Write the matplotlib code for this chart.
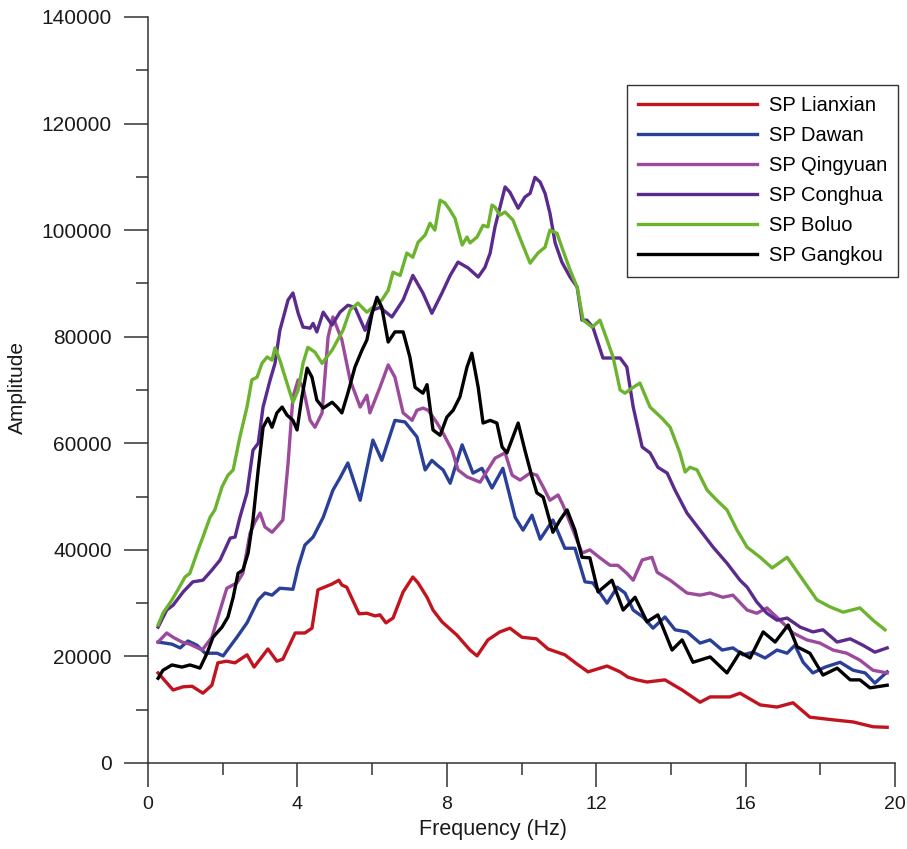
import matplotlib
matplotlib.use("Agg")
import matplotlib.pyplot as plt
from matplotlib.ticker import MultipleLocator

# frequency (Hz) / amplitude readings for each station spectrum
lianxian_f = [0.27, 0.67, 0.94, 1.18, 1.47, 1.71, 1.87, 2.1, 2.33, 2.65, 2.84, 3.21, 3.45, 3.61, 3.94,
              4.2, 4.39, 4.55, 4.93, 5.11, 5.19, 5.32, 5.65, 5.86, 6.08, 6.21, 6.37, 6.56, 6.83, 7.09,
              7.23, 7.47, 7.63, 7.87, 8.27, 8.62, 8.81, 9.1, 9.42, 9.69, 10.01, 10.4, 10.71, 11.16,
              11.48, 11.78, 12.29, 12.64, 12.85, 13.09, 13.36, 13.84, 14.3, 14.78, 15.05, 15.58,
              15.85, 16.39, 16.84, 17.27, 17.72, 18.34, 18.88, 19.41, 19.79]
lianxian_a = [16900, 13700, 14300, 14400, 13100, 14600, 18800, 19100, 18800, 20300, 18000, 21400,
              19100, 19500, 24400, 24400, 25300, 32500, 33600, 34300, 33400, 33000, 28000, 28100,
              27600, 27800, 26300, 27200, 32100, 34900, 33800, 31100, 28700, 26500, 24000, 21200,
              20100, 23100, 24600, 25300, 23600, 23300, 21400, 20300, 18600, 17100, 18200, 17100,
              16100, 15600, 15200, 15600, 13700, 11400, 12400, 12400, 13100, 10900, 10500, 11300,
              8600, 8100, 7700, 6800, 6700]

dawan_f = [0.27, 0.64, 0.86, 1.07, 1.31, 1.53, 1.85, 2.01, 2.38, 2.65, 2.95, 3.13, 3.32, 3.53, 3.88,
           4.02, 4.2, 4.42, 4.69, 4.95, 5.14, 5.35, 5.68, 6.02, 6.26, 6.61, 6.88, 7.2, 7.42, 7.6,
           7.74, 7.9, 8.09, 8.41, 8.7, 8.94, 9.21, 9.5, 9.83, 10.04, 10.28, 10.5, 10.84, 11.16,
           11.43, 11.7, 11.91, 12.29, 12.56, 12.77, 12.99, 13.25, 13.52, 13.84, 14.11, 14.43, 14.78,
           15.05, 15.37, 15.66, 15.93, 16.2, 16.52, 16.84, 17.11, 17.32, 17.54, 17.8, 18.13, 18.53,
           18.88, 19.2, 19.46, 19.79]
dawan_a = [22700, 22300, 21600, 22900, 22100, 20600, 20600, 20100, 23600, 26300, 30600, 31900, 31500,
           32800, 32600, 36800, 40900, 42400, 46100, 51200, 53500, 56300, 49300, 60600, 56800, 64300,
           64000, 61200, 55000, 56800, 55900, 55000, 52500, 59700, 54400, 55300, 51600, 55300, 46100,
           43700, 46500, 42000, 45600, 40300, 40300, 34000, 33800, 30000, 33000, 31900, 28700, 27400,
           25300, 27400, 25000, 24600, 22500, 23100, 21200, 21600, 20300, 20800, 19700, 21200, 20600,
           22100, 18900, 16900, 18000, 18900, 17400, 16900, 15000, 17100]

qingyuan_f = [0.27, 0.5, 0.67, 0.91, 1.12, 1.45, 1.71, 1.93, 2.11, 2.38, 2.54, 2.73, 2.86, 3.0, 3.13,
              3.32, 3.45, 3.61, 3.75, 3.88, 4.02, 4.15, 4.34, 4.47, 4.66, 4.82, 4.95, 5.19, 5.41, 5.68,
              5.86, 5.94, 6.21, 6.43, 6.61, 6.83, 7.07, 7.2, 7.36, 7.5, 7.74, 7.9, 8.14, 8.3, 8.54,
              8.89, 9.29, 9.56, 9.75, 9.96, 10.23, 10.41, 10.58, 10.76, 10.98, 11.11, 11.38, 11.62,
              11.83, 12.1, 12.37, 12.58, 12.82, 12.99, 13.23, 13.49, 13.63, 13.98, 14.43, 14.78,
              15.05, 15.39, 15.66, 16.04, 16.3, 16.57, 16.92, 17.27, 17.64, 17.99, 18.34, 18.71,
              19.06, 19.41, 19.79]
qingyuan_a = [22700, 24400, 23600, 22700, 22300, 21200, 23600, 28700, 32800, 33800, 35600, 43100,
              45200, 46900, 44300, 43300, 44300, 45600, 56300, 68700, 71900, 70500, 64300, 63000,
              65700, 79900, 83700, 79400, 71900, 66800, 69000, 65700, 70500, 74700, 72400, 65700,
              64300, 66200, 66600, 66200, 63800, 61900, 58700, 55000, 53700, 52700, 57200, 58200,
              54000, 53100, 54400, 54000, 51800, 49300, 50300, 48400, 43700, 39400, 40000, 38500,
              37100, 37100, 35600, 34300, 38100, 38600, 35800, 34300, 31900, 31500, 31900, 31100,
              31500, 28700, 28100, 29100, 26800, 24400, 23100, 22500, 21200, 20600, 19300, 17400,
              16900]

conghua_f = [0.27, 0.5, 0.67, 0.94, 1.2, 1.47, 1.71, 1.93, 2.2, 2.33, 2.46, 2.65, 2.81, 2.95, 3.08,
             3.27, 3.4, 3.53, 3.75, 3.88, 4.02, 4.15, 4.34, 4.42, 4.52, 4.69, 4.93, 5.14, 5.35, 5.54,
             5.81, 6.02, 6.21, 6.53, 6.83, 7.09, 7.36, 7.6, 7.87, 8.09, 8.3, 8.57, 8.84, 9.02, 9.16,
             9.29, 9.56, 9.69, 9.91, 10.09, 10.23, 10.36, 10.5, 10.63, 10.76, 10.9, 11.08, 11.3,
             11.49, 11.62, 11.75, 11.91, 12.18, 12.45, 12.64, 12.82, 12.99, 13.23, 13.44, 13.65,
             13.9, 14.11, 14.43, 14.78, 15.13, 15.5, 15.85, 16.04, 16.3, 16.57, 16.84, 17.11, 17.46,
             17.8, 18.07, 18.45, 18.8, 19.14, 19.46, 19.79]
conghua_a = [25500, 28700, 29600, 32100, 34000, 34300, 36200, 38100, 42200, 42400, 46100, 50700,
             58700, 60000, 66800, 71900, 75000, 81200, 86900, 88200, 84400, 81800, 81600, 82500,
             80900, 84600, 82200, 84600, 85900, 85500, 81200, 85000, 85500, 83700, 86900, 91500,
             88200, 84400, 88200, 91500, 94000, 92900, 91200, 93000, 95700, 100600, 108100, 107100,
             104100, 106200, 106900, 109900, 109000, 106900, 103200, 97600, 94000, 91200, 89300,
             83100, 83100, 81800, 76000, 76000, 76000, 74300, 66800, 59300, 58200, 55500, 54400,
             51200, 46900, 43700, 40500, 37500, 34300, 33000, 30200, 28100, 26800, 27200, 25500,
             24600, 25000, 22700, 23300, 22100, 20800, 21600]

boluo_f = [0.27, 0.4, 0.64, 0.8, 0.99, 1.12, 1.31, 1.47, 1.66, 1.79, 1.98, 2.14, 2.28, 2.46, 2.65,
           2.78, 2.92, 3.05, 3.19, 3.32, 3.4, 3.53, 3.72, 3.88, 4.02, 4.15, 4.28, 4.47, 4.66, 4.93,
           5.22, 5.41, 5.62, 5.86, 6.02, 6.26, 6.43, 6.56, 6.75, 6.93, 7.09, 7.23, 7.42, 7.55, 7.68,
           7.82, 7.95, 8.09, 8.22, 8.41, 8.54, 8.62, 8.81, 8.97, 9.1, 9.21, 9.29, 9.42, 9.56, 9.77,
           10.01, 10.23, 10.44, 10.63, 10.76, 10.95, 11.11, 11.3, 11.49, 11.65, 11.89, 12.1, 12.29,
           12.45, 12.64, 12.77, 12.99, 13.17, 13.44, 13.76, 13.98, 14.24, 14.38, 14.51, 14.7, 14.97,
           15.23, 15.5, 15.77, 16.04, 16.39, 16.71, 17.11, 17.54, 17.91, 18.26, 18.61, 19.06, 19.41,
           19.73]
boluo_a = [25900, 28100, 30600, 32500, 34900, 35600, 39400, 42400, 46100, 47500, 51800, 54000, 55000,
           61200, 66800, 71900, 72400, 75000, 76200, 75600, 77900, 75600, 71300, 67700, 70000, 75000,
           78000, 77100, 75000, 77500, 81200, 85000, 86300, 84600, 85500, 86900, 88700, 92100, 91500,
           95700, 94900, 97700, 99100, 101300, 100000, 105600, 105100, 103700, 102200, 97200, 98700,
           97600, 98700, 100900, 100600, 104700, 104300, 102800, 103400, 101900, 97600, 93800, 95700,
           96800, 100000, 99400, 96200, 92500, 89300, 83100, 81800, 83100, 79400, 76200, 70000, 69400,
           70500, 71300, 66800, 64700, 63000, 58200, 54600, 55500, 55000, 51200, 49300, 47500, 43700,
           40500, 38600, 36600, 38600, 34300, 30600, 29300, 28300, 29100, 26800, 25000]

gangkou_f = [0.27, 0.4, 0.64, 0.91, 1.12, 1.31, 1.39, 1.58, 1.74, 1.98, 2.14, 2.28, 2.41, 2.54, 2.68,
             2.81, 2.95, 3.08, 3.21, 3.32, 3.45, 3.59, 3.72, 3.88, 3.99, 4.12, 4.26, 4.39, 4.52, 4.69,
             4.93, 5.06, 5.19, 5.35, 5.54, 5.73, 5.86, 6.0, 6.13, 6.26, 6.43, 6.61, 6.83, 7.01, 7.15,
             7.36, 7.47, 7.63, 7.82, 8.0, 8.17, 8.35, 8.54, 8.67, 8.84, 8.97, 9.16, 9.34, 9.48, 9.61,
             9.77, 9.91, 10.09, 10.28, 10.41, 10.58, 10.84, 11.03, 11.22, 11.43, 11.62, 11.83, 12.05,
             12.42, 12.72, 13.04, 13.36, 13.65, 14.03, 14.3, 14.59, 15.05, 15.5, 15.85, 16.12, 16.47,
             16.79, 17.14, 17.38, 17.72, 18.07, 18.45, 18.8, 19.06, 19.33, 19.79]
gangkou_a = [15900, 17400, 18400, 18000, 18400, 18000, 17800, 20600, 23600, 25500, 27400, 31100,
             35600, 36200, 39400, 45600, 55000, 63000, 64700, 63000, 65700, 66800, 65300, 64300,
             62500, 68700, 74100, 72400, 68100, 66600, 67700, 66800, 65700, 69400, 74300, 77500,
             79400, 84400, 87400, 85500, 79000, 80900, 80900, 76200, 70500, 69400, 71000, 62500,
             61500, 64900, 66200, 68700, 74300, 76900, 70500, 63800, 64300, 63800, 59300, 58200,
             61200, 63800, 58700, 53700, 50700, 49900, 43300, 45600, 47500, 43700, 38600, 38500,
             32100, 34300, 28700, 31100, 26500, 27800, 21200, 23100, 18900, 19900, 16900, 20800,
             19700, 24600, 22700, 25900, 21800, 20600, 16500, 17800, 15600, 15600, 14100, 14600]

labels = ["SP Lianxian", "SP Dawan", "SP Qingyuan", "SP Conghua", "SP Boluo", "SP Gangkou"]
colors = ["#c1141e", "#2a3f98", "#9b4a9c", "#5a2b8c", "#6cb32e", "#000000"]


def plot_spectra(fname="out.png"):
    plt.rcParams["font.family"] = ["Liberation Sans", "DejaVu Sans"]

    fig = plt.figure(figsize=(9.07, 8.49), dpi=100)
    ax = fig.add_axes([0.1632, 0.1013, 0.8236, 0.8787])

    series = [(lianxian_f, lianxian_a), (dawan_f, dawan_a), (qingyuan_f, qingyuan_a),
              (conghua_f, conghua_a), (boluo_f, boluo_a), (gangkou_f, gangkou_a)]
    for (xs, ys), lab, col in zip(series, labels, colors):
        ax.plot(xs, ys, color=col, lw=2.4, label=lab, solid_joinstyle="round")

    ax.set_xlim(0, 20)
    ax.set_ylim(0, 140000)

    # long outward ticks, majors labelled, minors halfway
    ax.xaxis.set_major_locator(MultipleLocator(4))
    ax.xaxis.set_minor_locator(MultipleLocator(2))
    ax.yaxis.set_major_locator(MultipleLocator(20000))
    ax.yaxis.set_minor_locator(MultipleLocator(10000))
    ax.tick_params(which="major", direction="out", length=17, width=1.1, color="#333333",
                   labelsize=14, labelcolor="#1a1a1a")
    ax.tick_params(axis="y", which="major", pad=9, labelsize=15)
    ax.tick_params(axis="x", which="major", pad=7)
    ax.tick_params(which="minor", direction="out", length=8.6, width=1.1, color="#333333")

    for side in ["top", "right"]:
        ax.spines[side].set_visible(False)
    for side in ["left", "bottom"]:
        ax.spines[side].set_linewidth(1.1)
        ax.spines[side].set_color("#333333")

    ax.set_xlabel("Frequency (Hz)", fontsize=15.5, color="#1a1a1a")
    ax.xaxis.set_label_coords(0.462, -0.075)
    ax.set_ylabel("Amplitude", fontsize=15, color="#1a1a1a")
    ax.yaxis.set_label_coords(-0.162, 0.503)

    leg = ax.legend(loc="upper right", bbox_to_anchor=(898 / 907, 1 - 85 / 849),
                    bbox_transform=fig.transFigure, borderaxespad=0, fontsize=14.5,
                    handlelength=5.9, handletextpad=0.6, labelspacing=0.55,
                    borderpad=0.55, fancybox=False, framealpha=1)
    leg.get_frame().set_edgecolor("#333333")
    leg.get_frame().set_linewidth(1.0)

    fig.savefig(fname, dpi=100)


plot_spectra()
